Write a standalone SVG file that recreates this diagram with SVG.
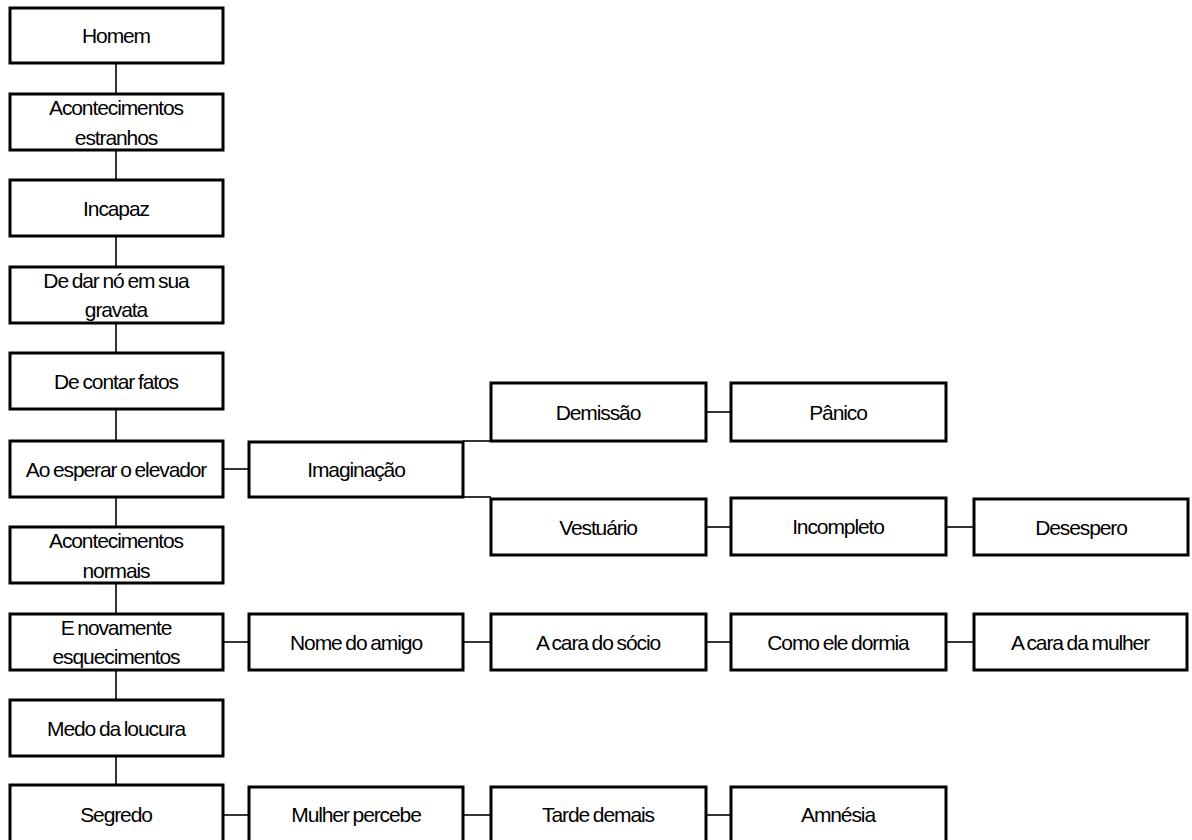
<svg xmlns="http://www.w3.org/2000/svg" width="1192" height="840" viewBox="0 0 1192 840">
  <style>
    .box rect { fill: #ffffff; stroke: #000000; stroke-width: 3; }
    .box text { font-family: "Liberation Sans", Arial, sans-serif; font-size: 21px; letter-spacing: -1.1px; word-spacing: -1px; fill: #000000; text-anchor: middle; }
    #connectors line { stroke: #000000; stroke-width: 1.6; }
  </style>
  <rect x="0" y="0" width="1192" height="840" fill="#ffffff"/>

  <!-- connectors drawn first so boxes sit on top -->
  <g id="connectors">
    <!-- main vertical chain -->
    <line x1="116" y1="63" x2="116" y2="94"/>
    <line x1="116" y1="150" x2="116" y2="180"/>
    <line x1="116" y1="236" x2="116" y2="267"/>
    <line x1="116" y1="323" x2="116" y2="353"/>
    <line x1="116" y1="409" x2="116" y2="441"/>
    <line x1="116" y1="497" x2="116" y2="527"/>
    <line x1="116" y1="583" x2="116" y2="614"/>
    <line x1="116" y1="670" x2="116" y2="700"/>
    <line x1="116" y1="756" x2="116" y2="785"/>
    <!-- Ao esperar o elevador branch -->
    <line x1="223" y1="469" x2="249" y2="469"/>
    <line x1="463" y1="441" x2="491" y2="441"/>
    <line x1="463" y1="497" x2="491" y2="497"/>
    <line x1="706" y1="412" x2="731" y2="412"/>
    <line x1="706" y1="527" x2="731" y2="527"/>
    <line x1="946" y1="527" x2="974" y2="527"/>
    <!-- E novamente esquecimentos branch -->
    <line x1="223" y1="642" x2="249" y2="642"/>
    <line x1="463" y1="642" x2="491" y2="642"/>
    <line x1="706" y1="642" x2="731" y2="642"/>
    <line x1="946" y1="642" x2="974" y2="642"/>
    <!-- Segredo branch -->
    <line x1="223" y1="815" x2="249" y2="815"/>
    <line x1="463" y1="815" x2="491" y2="815"/>
    <line x1="706" y1="815" x2="731" y2="815"/>
  </g>

  <!-- left column -->
  <g id="homem" class="box"><rect x="10" y="8" width="213" height="55"/><text x="116" y="43">Homem</text></g>
  <g id="acontecimentos-estranhos" class="box"><rect x="10" y="94" width="213" height="56"/><text x="116" y="115">Acontecimentos</text><text x="116" y="145">estranhos</text></g>
  <g id="incapaz" class="box"><rect x="10" y="180" width="213" height="56"/><text x="116" y="216">Incapaz</text></g>
  <g id="de-dar-no" class="box"><rect x="10" y="267" width="213" height="56"/><text x="116" y="288">De dar nó em sua</text><text x="116" y="317">gravata</text></g>
  <g id="de-contar-fatos" class="box"><rect x="10" y="353" width="213" height="56"/><text x="116" y="389">De contar fatos</text></g>
  <g id="ao-esperar" class="box"><rect x="10" y="441" width="213" height="56"/><text x="116" y="477">Ao esperar o elevador</text></g>
  <g id="acontecimentos-normais" class="box"><rect x="10" y="527" width="213" height="56"/><text x="116" y="548">Acontecimentos</text><text x="116" y="578">normais</text></g>
  <g id="e-novamente" class="box"><rect x="10" y="614" width="213" height="56"/><text x="116" y="635">E novamente</text><text x="116" y="664">esquecimentos</text></g>
  <g id="medo-da-loucura" class="box"><rect x="10" y="700" width="213" height="56"/><text x="116" y="736">Medo da loucura</text></g>
  <g id="segredo" class="box"><rect x="10" y="785" width="213" height="58"/><text x="116" y="822">Segredo</text></g>

  <!-- imaginação branch -->
  <g id="imaginacao" class="box"><rect x="249" y="442" width="214" height="55"/><text x="356" y="477">Imaginação</text></g>
  <g id="demissao" class="box"><rect x="491" y="383" width="215" height="58"/><text x="598" y="420">Demissão</text></g>
  <g id="panico" class="box"><rect x="731" y="383" width="215" height="58"/><text x="838" y="420">Pânico</text></g>
  <g id="vestuario" class="box"><rect x="491" y="499" width="215" height="56"/><text x="598" y="535">Vestuário</text></g>
  <g id="incompleto" class="box"><rect x="731" y="498" width="215" height="57"/><text x="838" y="534">Incompleto</text></g>
  <g id="desespero" class="box"><rect x="974" y="499" width="214" height="56"/><text x="1081" y="535">Desespero</text></g>

  <!-- esquecimentos branch -->
  <g id="nome-do-amigo" class="box"><rect x="249" y="614" width="214" height="56"/><text x="356" y="650">Nome do amigo</text></g>
  <g id="cara-do-socio" class="box"><rect x="491" y="614" width="215" height="56"/><text x="598" y="650">A cara do sócio</text></g>
  <g id="como-ele-dormia" class="box"><rect x="731" y="614" width="215" height="56"/><text x="838" y="650">Como ele dormia</text></g>
  <g id="cara-da-mulher" class="box"><rect x="974" y="614" width="213" height="56"/><text x="1080" y="650">A cara da mulher</text></g>

  <!-- segredo branch -->
  <g id="mulher-percebe" class="box"><rect x="249" y="787" width="214" height="58"/><text x="356" y="822">Mulher percebe</text></g>
  <g id="tarde-demais" class="box"><rect x="491" y="787" width="215" height="58"/><text x="598" y="822">Tarde demais</text></g>
  <g id="amnesia" class="box"><rect x="731" y="787" width="215" height="58"/><text x="838" y="822">Amnésia</text></g>
</svg>
